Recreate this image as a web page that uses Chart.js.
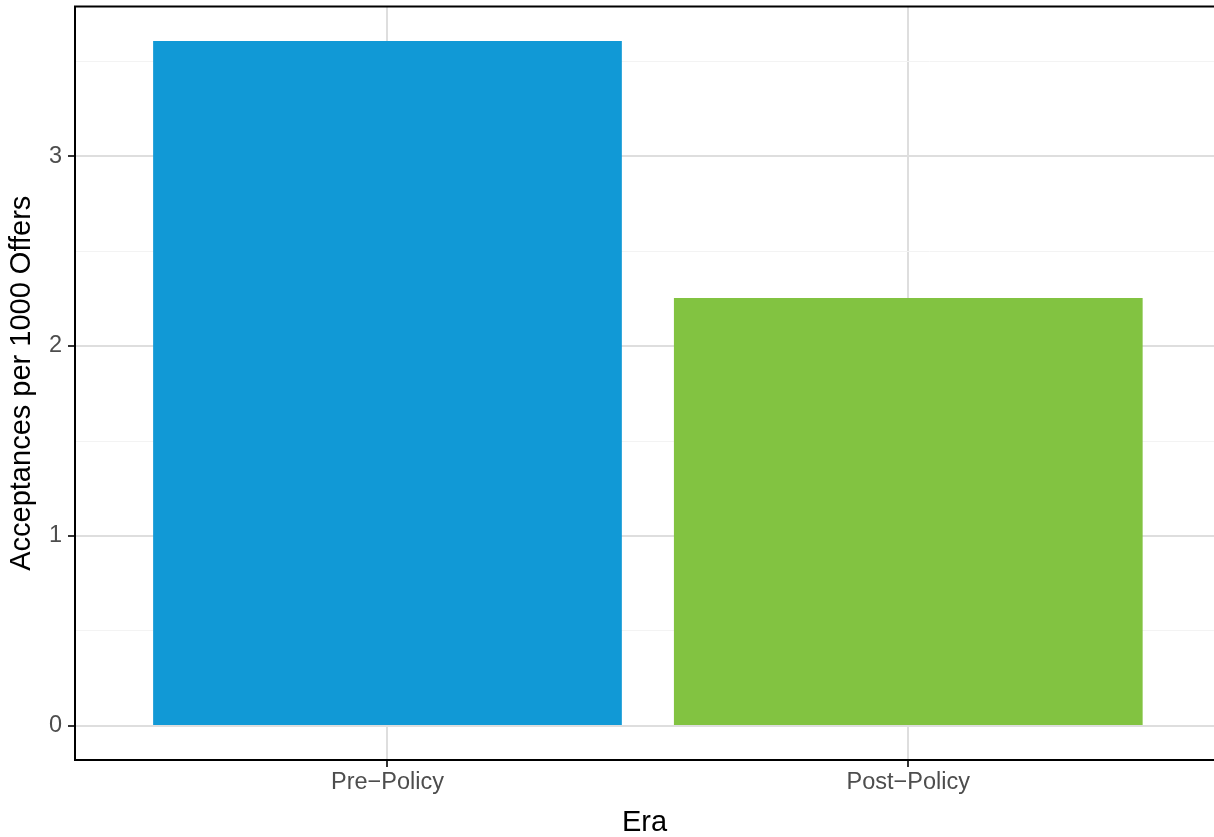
<!DOCTYPE html>
<html>
<head>
<meta charset="utf-8">
<script src="https://cdn.jsdelivr.net/npm/chart.js@4"></script>
<style>
  html, body { margin: 0; padding: 0; background: #fff; }
  #wrap { width: 1214px; height: 837px; position: relative; }
</style>
</head>
<body>
<div id="wrap"><canvas id="eraChart"></canvas></div>
<script>
// ===== data =====
const categories = ['Pre\u2212Policy', 'Post\u2212Policy'];
const rates = [3.605, 2.253];
const barColors = ['#1199D6', '#82C341'];
const yTicks = [0, 0.5, 1, 1.5, 2, 2.5, 3, 3.5];

const FONT = 'Liberation Sans, Arial, Helvetica, sans-serif';

// top border of the panel (right edge falls off the canvas)
const panelBorder = {
  id: 'panelBorder',
  afterDraw(chart) {
    const { ctx, chartArea } = chart;
    ctx.save();
    ctx.strokeStyle = '#000';
    ctx.lineWidth = 2;
    ctx.beginPath();
    ctx.moveTo(chartArea.left - 1, chartArea.top);
    ctx.lineTo(chartArea.right, chartArea.top);
    ctx.stroke();
    ctx.restore();
  }
};

const isMajor = v => Number.isInteger(v);

new Chart(document.getElementById('eraChart'), {
  type: 'bar',
  data: {
    datasets: [{
      data: categories.map((c, i) => ({ x: i + 1, y: rates[i] })),
      backgroundColor: barColors,
      borderWidth: 0,
      barPercentage: 0.9,
      categoryPercentage: 1.0
    }]
  },
  options: {
    responsive: true,
    maintainAspectRatio: false,
    animation: false,
    layout: { padding: { top: 6.5, right: 0, left: 0, bottom: 0 } },
    plugins: { legend: { display: false }, tooltip: { enabled: false } },
    scales: {
      x: {
        type: 'linear',
        offset: false,
        min: 0.4,
        max: 2.587,
        afterBuildTicks: s => { s.ticks = categories.map((c, i) => ({ value: i + 1 })); },
        afterFit: s => { s.height = 77; s.paddingLeft = 0; s.paddingRight = 0; },
        ticks: {
          callback: v => categories[v - 1],
          color: '#4d4d4d',
          font: { family: FONT, size: 23.5, lineHeight: 1 },
          padding: 4,
          maxRotation: 0
        },
        grid: { offset: false, color: '#dedede', lineWidth: 2, tickColor: '#333', tickLength: 7, tickWidth: 2 },
        border: { display: true, color: '#000', width: 2 },
        title: { display: true, text: 'Era', color: '#000', font: { family: FONT, size: 29, lineHeight: 1 }, padding: { top: 0, bottom: 0 } }
      },
      y: {
        min: -0.179,
        max: 3.787,
        afterBuildTicks: s => { s.ticks = yTicks.map(v => ({ value: v })); },
        afterFit: s => { s.width = 75; s.paddingTop = 0; s.paddingBottom = 0; },
        ticks: {
          callback: v => isMajor(v) ? String(v) : '',
          color: '#4d4d4d',
          font: { family: FONT, size: 23.5 },
          padding: 6
        },
        grid: {
          color: c => isMajor(c.tick.value) ? '#dedede' : '#f3f3f3',
          lineWidth: c => isMajor(c.tick.value) ? 2 : 1,
          tickColor: c => isMajor(c.tick.value) ? '#333' : 'rgba(0,0,0,0)',
          tickLength: 7,
          tickWidth: 2
        },
        border: { display: true, color: '#000', width: 2 },
        title: { display: true, text: 'Acceptances per 1000 Offers', color: '#000', font: { family: FONT, size: 29, lineHeight: 1 }, padding: { top: 7.5, bottom: 0 } }
      }
    }
  },
  plugins: [panelBorder]
});
</script>
</body>
</html>
